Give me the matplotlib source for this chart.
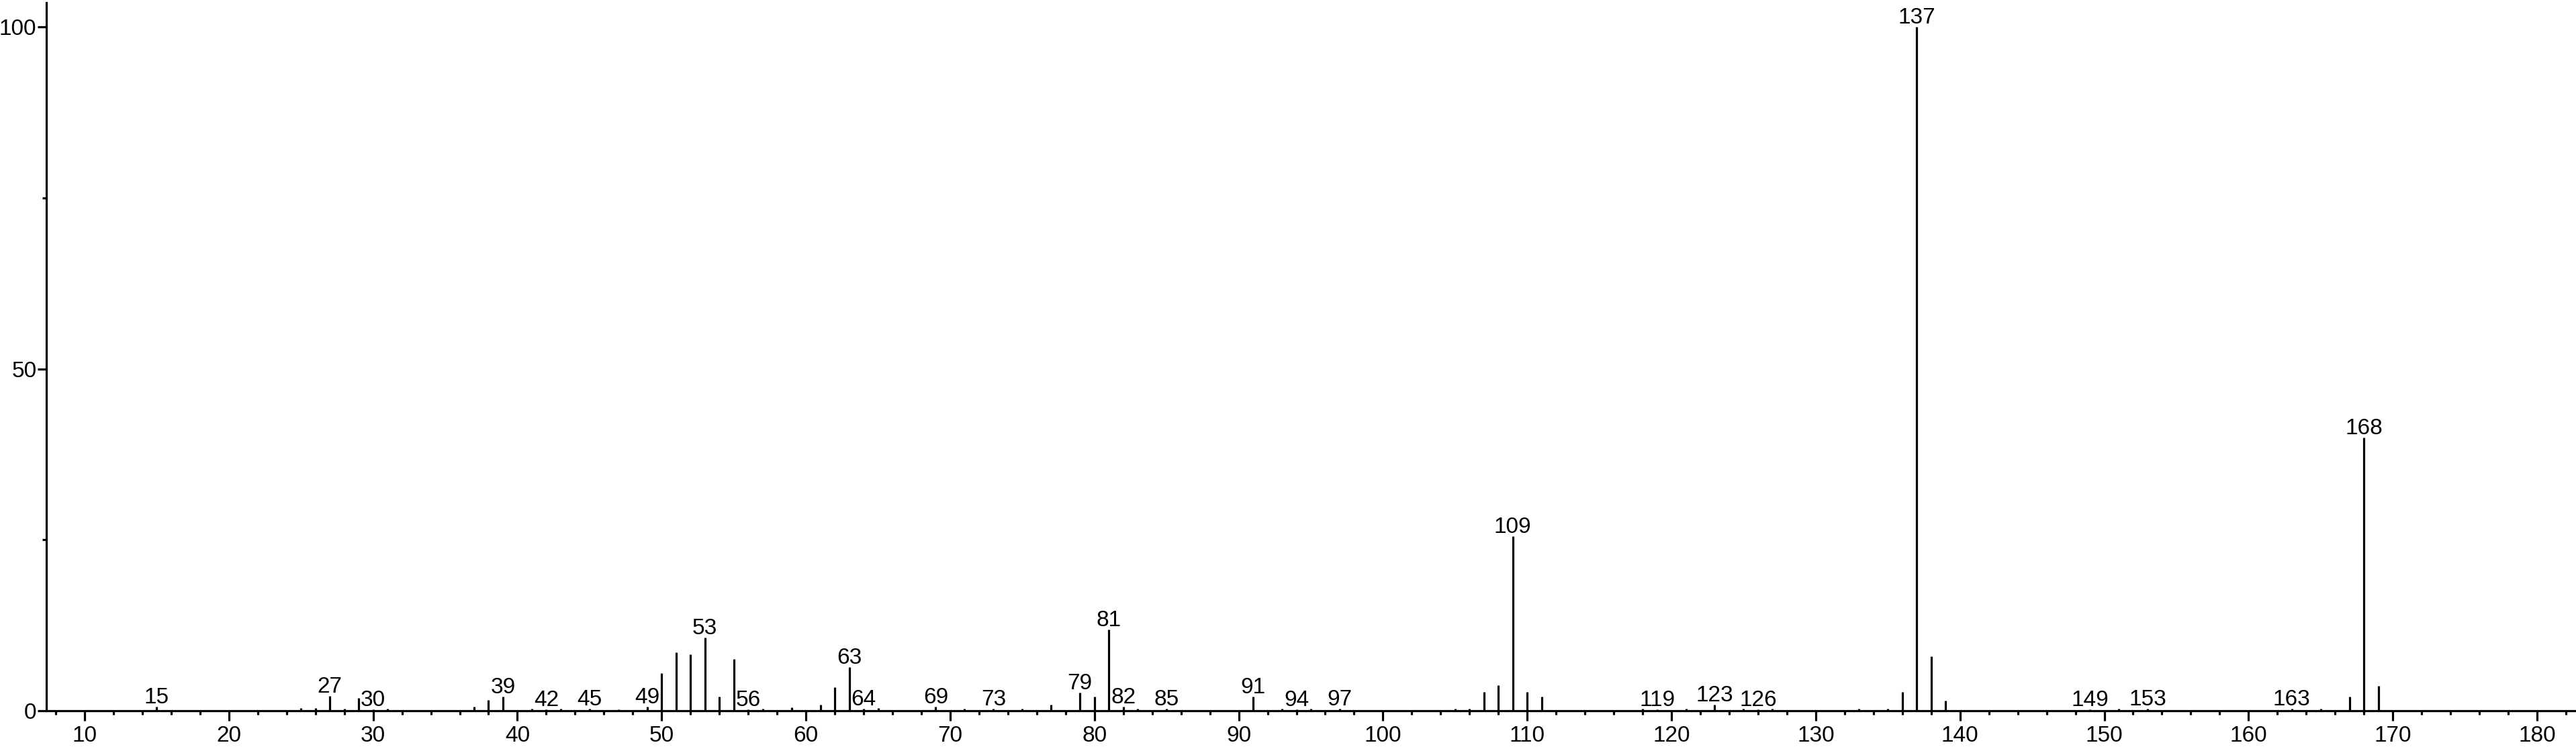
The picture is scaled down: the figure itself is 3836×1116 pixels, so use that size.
import matplotlib.pyplot as plt
from matplotlib.ticker import MultipleLocator, FixedLocator

plt.rcParams["font.family"] = ["Liberation Sans", "DejaVu Sans"]

# m/z values and relative intensities (%)
mz = [15, 25, 26, 27, 28, 29, 30, 31, 37, 38, 39, 41, 42, 43, 45, 47, 49,
      50, 51, 52, 53, 54, 55, 56, 57, 59, 61, 62, 63, 64, 65, 69, 71, 73,
      75, 77, 79, 80, 81, 82, 83, 85, 91, 93, 94, 95, 97, 105, 106, 107,
      108, 109, 110, 111, 118, 119, 121, 123, 125, 126, 127, 133, 135, 136,
      137, 138, 139, 149, 151, 153, 163, 165, 167, 168, 169]
intensity = [0.6, 0.4, 0.4, 2.2, 0.3, 1.9, 0.2, 0.3, 0.6, 1.6, 2.1, 0.3,
             0.2, 0.3, 0.3, 0.2, 0.6, 5.5, 8.5, 8.3, 10.7, 2.1, 7.6, 0.2,
             0.3, 0.5, 0.9, 3.4, 6.4, 0.3, 0.4, 0.6, 0.3, 0.3, 0.3, 0.9,
             2.7, 2.1, 11.9, 0.6, 0.3, 0.3, 2.1, 0.3, 0.2, 0.3, 0.3, 0.3,
             0.3, 2.8, 3.7, 25.5, 2.8, 2.1, 0.3, 0.2, 0.3, 0.9, 0.3, 0.2,
             0.3, 0.3, 0.3, 2.8, 100.0, 8.0, 1.5, 0.2, 0.3, 0.3, 0.3, 0.3,
             2.1, 40.0, 3.6]

# peaks that carry an m/z label
labelled = [15, 27, 30, 39, 42, 45, 49, 53, 56, 63, 64, 69, 73, 79, 81, 82,
            85, 91, 94, 97, 109, 119, 123, 126, 137, 149, 153, 163, 168]

x_major = list(range(10, 181, 10))
y_major = [0, 50, 100]
y_minor = [25, 75]

fig = plt.figure(figsize=(38.36, 11.16), dpi=100)
ax = fig.add_axes([0.018, 0.051, 0.982, 0.945])

ax.vlines(mz, 0, intensity, color="black", linewidth=2.3)

height = dict(zip(mz, intensity))
for m in labelled:
    ax.annotate(str(m), xy=(m, height[m]), xytext=(0, 3.6),
                textcoords="offset points", ha="center", va="baseline",
                fontsize=24, annotation_clip=False)

ax.set_xlim(7.35, 182.7)
ax.set_ylim(0, 103.5)

for s in ["top", "right"]:
    ax.spines[s].set_visible(False)
for s in ["left", "bottom"]:
    ax.spines[s].set_linewidth(2.3)

ax.xaxis.set_major_locator(FixedLocator(x_major))
ax.xaxis.set_minor_locator(MultipleLocator(2))
ax.yaxis.set_major_locator(FixedLocator(y_major))
ax.yaxis.set_minor_locator(FixedLocator(y_minor))

ax.tick_params(axis="x", which="major", length=10.8, width=2.3, pad=5,
               labelsize=24)
ax.tick_params(axis="x", which="minor", length=4.3, width=2.3)
ax.tick_params(axis="y", which="major", length=9.5, width=2.3, pad=1,
               labelsize=24)
ax.tick_params(axis="y", which="minor", length=4.3, width=2.3)

fig.savefig("out.png", dpi=100)
